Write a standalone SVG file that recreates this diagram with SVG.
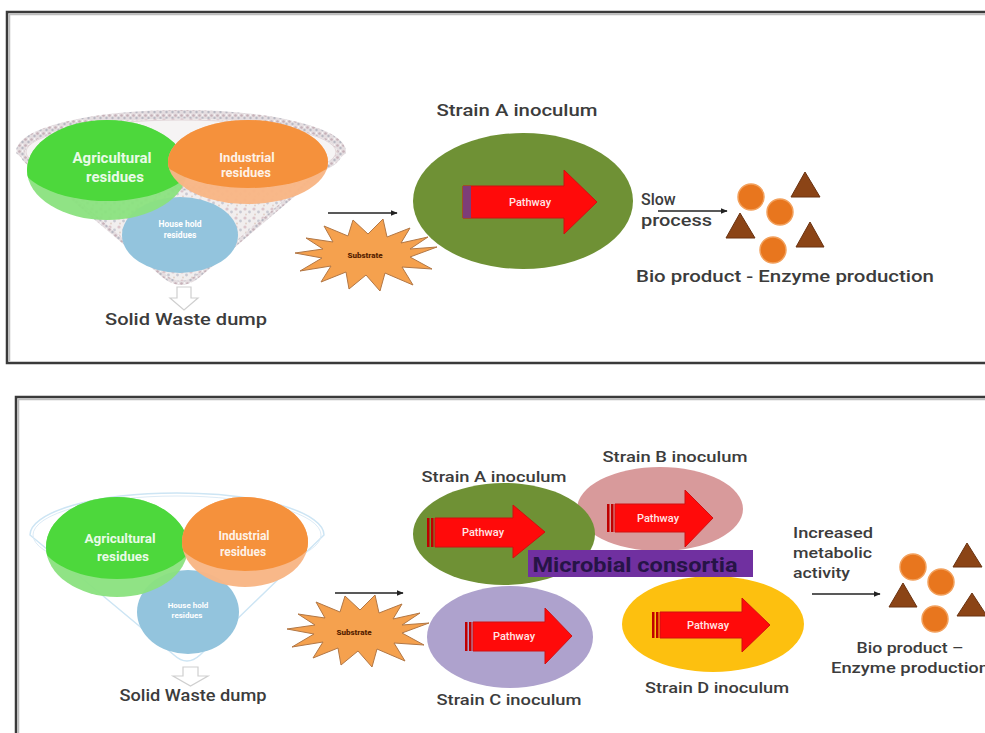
<svg xmlns="http://www.w3.org/2000/svg" width="985" height="733" viewBox="0 0 985 733">
<defs>
<style>
.lbl{font-family:Roboto,"DejaVu Sans",sans-serif;font-weight:500;fill:#3c3c3c}
.wt{font-family:Roboto,"DejaVu Sans",sans-serif;font-weight:700;fill:#ffffff}
.pw{font-family:Roboto,"DejaVu Sans",sans-serif;font-weight:500;fill:#ffe6e6;font-size:11px}
.sub{font-family:Roboto,"DejaVu Sans",sans-serif;font-weight:900;fill:#5a2400;font-size:8px}
.panel{fill:none;stroke:#3a3a3a;stroke-width:2.5}
.panel2{fill:none;stroke:#bdbdbd;stroke-width:1.5}
.conn{stroke:#222;stroke-width:1.3;fill:none;marker-end:url(#ah)}
.arrow{fill:#ff0a0a;stroke:#d01010;stroke-width:1}
.stripe{fill:#c00000}
.star{fill:#f5a14e;stroke:#b27745;stroke-width:1}
.circ{fill:#e8761e;stroke:#f2a05c;stroke-width:1.5}
.tri{fill:#8b4416;stroke:#6a3210;stroke-width:1}
.darr{fill:#ffffff;stroke:#cfcfcf;stroke-width:1.2}
</style>
<marker id="ah" viewBox="0 0 10 10" refX="9" refY="5" markerWidth="7" markerHeight="7" orient="auto" markerUnits="userSpaceOnUse">
<path d="M0,1 L10,5 L0,9 Z" fill="#222"/>
</marker>
<pattern id="mottle" width="9" height="9" patternUnits="userSpaceOnUse">
<rect width="9" height="9" fill="#f1eeee"/>
<circle cx="2" cy="2" r="1.6" fill="#dcc5cb"/>
<circle cx="6.5" cy="5" r="1.4" fill="#c9c9d2"/>
<circle cx="3" cy="7.5" r="1" fill="#e2d2c8"/>
</pattern>
<pattern id="rim" width="6" height="6" patternUnits="userSpaceOnUse">
<rect width="6" height="6" fill="#e4dde0"/>
<circle cx="1.5" cy="1.5" r="1.3" fill="#c6b0b8"/>
<circle cx="4.5" cy="4" r="1.2" fill="#b8b8c2"/>
<circle cx="4.5" cy="1" r="0.8" fill="#ffffff"/>
</pattern>
<clipPath id="cg1"><ellipse cx="107" cy="170" rx="80" ry="50"/></clipPath>
<clipPath id="co1"><ellipse cx="248" cy="162" rx="80" ry="42"/></clipPath>
<clipPath id="cg2"><ellipse cx="117" cy="547" rx="71" ry="50"/></clipPath>
<clipPath id="co2"><ellipse cx="245" cy="542" rx="63" ry="45"/></clipPath>
<polygon id="starshape" points="71,-8 44,2 66,14 36,12 47,30 19,18 14,36 0,20 -17,34 -20,17 -45,27 -35,11 -66,16 -44,3 -71,-2 -43,-6 -60,-17 -33,-13 -42,-29 -18,-19 -13,-35 2,-21 17,-36 21,-18 44,-27 35,-12 62,-18 44,-6"/>
</defs>
<rect width="985" height="733" fill="#ffffff"/>

<!-- panel frames -->
<path class="panel2" d="M985,14.5 H9.5 V361"/>
<path class="panel" d="M985,12 H7 V363 H985"/>
<path class="panel2" d="M985,399.5 H18.5 V733"/>
<path class="panel" d="M985,397 H16 V733"/>

<!-- ===== Top panel ===== -->
<g id="funnel-top">
<path d="M18,152 A163,40 0 0,1 344,152 L198,276 Q181,290 164,276 Z" fill="url(#mottle)" stroke="url(#rim)" stroke-width="4"/>
<ellipse cx="181" cy="152" rx="159" ry="36" fill="none" stroke="url(#rim)" stroke-width="5"/>
<ellipse cx="181" cy="152" rx="155" ry="32" fill="#f6f4f4" stroke="#e3d7da" stroke-width="1"/>
</g>
<g id="household-top">
<ellipse cx="180" cy="235" rx="58" ry="38" fill="#93c4dd"/>
<text class="wt" x="180" y="227" font-size="8.5" font-weight="500" text-anchor="middle">House hold</text>
<text class="wt" x="180" y="238" font-size="8.5" font-weight="500" text-anchor="middle">residues</text>
</g>
<g id="agri-top">
<ellipse cx="107" cy="170" rx="80" ry="50" fill="#8ae27e" fill-opacity="0.95"/>
<g clip-path="url(#cg1)"><ellipse cx="107" cy="156" rx="90" ry="45" fill="#4dd83c"/></g>
<text class="wt" x="112" y="163" font-size="15" text-anchor="middle" fill-opacity="0.9">Agricultural</text>
<text class="wt" x="115" y="182" font-size="15" text-anchor="middle" fill-opacity="0.9">residues</text>
</g>
<g id="indus-top">
<ellipse cx="248" cy="162" rx="80" ry="42" fill="#f8b685" fill-opacity="0.97"/>
<g clip-path="url(#co1)"><ellipse cx="248" cy="150" rx="90" ry="38" fill="#f5913c"/></g>
<text class="wt" x="247" y="162" font-size="13" text-anchor="middle" fill-opacity="0.9">Industrial</text>
<text class="wt" x="246" y="177" font-size="13" text-anchor="middle" fill-opacity="0.9">residues</text>
</g>
<g id="dump-top">
<path class="darr" d="M177,287 H191 V298 H198 L184,310 L170,298 H177 Z"/>
<text class="lbl" x="186" y="325" font-size="17" text-anchor="middle" textLength="162" lengthAdjust="spacingAndGlyphs">Solid Waste dump</text>
</g>
<g id="substrate-top">
<use href="#starshape" class="star" transform="translate(366,255)"/>
<text class="sub" x="365" y="258" text-anchor="middle">Substrate</text>
</g>
<g id="strainA-top">
<text class="lbl" x="517" y="116" font-size="17" text-anchor="middle" textLength="161" lengthAdjust="spacingAndGlyphs">Strain A inoculum</text>
<ellipse cx="523" cy="201" rx="110" ry="68" fill="#6f9135"/>
<polygon class="arrow" points="463,186 564,186 564,170 597,202 564,234 564,218 463,218"/>
<rect x="463" y="186" width="8" height="32" fill="#7d3d78"/>
<text class="pw" x="530" y="206" text-anchor="middle">Pathway</text>
</g>
<g id="products-top">
<polygon class="tri" points="805,172 820,197 791,197"/>
<polygon class="tri" points="740,213 755,238 726,238"/>
<polygon class="tri" points="810,222 824,247 796,247"/>
<circle class="circ" cx="751" cy="197" r="13"/>
<circle class="circ" cx="780" cy="212" r="13"/>
<circle class="circ" cx="773" cy="250" r="13"/>
<text class="lbl" x="636" y="282" font-size="16.5" textLength="298" lengthAdjust="spacingAndGlyphs">Bio product - Enzyme production</text>
</g>
<g id="slow-label">
<text class="lbl" x="641" y="205" font-size="16">Slow</text>
<text class="lbl" x="641" y="226" font-size="16" textLength="71" lengthAdjust="spacingAndGlyphs">process</text>
</g>

<!-- ===== Bottom panel ===== -->
<g id="funnel-bottom">
<path d="M30,535 A147,42 0 0,1 324,535 L200,655 Q187,667 174,655 Z" fill="#ffffff" stroke="#cde5f4" stroke-width="1.5"/>
<ellipse cx="177" cy="535" rx="144" ry="39" fill="none" stroke="#dcebf6" stroke-width="1"/>
</g>
<g id="household-bottom">
<ellipse cx="188" cy="612" rx="51" ry="42" fill="#93c4dd"/>
<text class="wt" x="188" y="608" font-size="8" font-weight="500" text-anchor="middle">House hold</text>
<text class="wt" x="187" y="618" font-size="8" font-weight="500" text-anchor="middle">residues</text>
</g>
<g id="agri-bottom">
<ellipse cx="117" cy="547" rx="71" ry="50" fill="#8ae27e" fill-opacity="0.95"/>
<g clip-path="url(#cg2)"><ellipse cx="117" cy="533" rx="80" ry="46" fill="#4dd83c"/></g>
<text class="wt" x="120" y="543" font-size="13.5" text-anchor="middle" fill-opacity="0.9">Agricultural</text>
<text class="wt" x="123" y="561" font-size="13.5" text-anchor="middle" fill-opacity="0.9">residues</text>
</g>
<g id="indus-bottom">
<ellipse cx="245" cy="542" rx="63" ry="45" fill="#f8b685" fill-opacity="0.97"/>
<g clip-path="url(#co2)"><ellipse cx="245" cy="530" rx="72" ry="41" fill="#f5913c"/></g>
<text class="wt" x="244" y="540" font-size="12" text-anchor="middle" fill-opacity="0.9">Industrial</text>
<text class="wt" x="243" y="556" font-size="12" text-anchor="middle" fill-opacity="0.9">residues</text>
</g>
<g id="dump-bottom">
<path class="darr" d="M183,667 H198 V676 H208 L190.5,686 L173,676 H183 Z"/>
<text class="lbl" x="193" y="701" font-size="16" text-anchor="middle" textLength="147" lengthAdjust="spacingAndGlyphs">Solid Waste dump</text>
</g>
<g id="substrate-bottom">
<use href="#starshape" class="star" transform="translate(358,631)"/>
<text class="sub" x="354" y="635" text-anchor="middle">Substrate</text>
</g>
<g id="strainB">
<ellipse cx="660" cy="509" rx="83" ry="42" fill="#d89a9b"/>
<polygon class="arrow" points="615,504 685,504 685,490 713,518 685,547 685,532 615,532"/>
<rect class="stripe" x="607" y="504" width="2.5" height="28"/>
<rect class="stripe" x="611" y="504" width="2.5" height="28"/>
<text class="pw" x="658" y="522" text-anchor="middle">Pathway</text>
<text class="lbl" x="675" y="462" font-size="15" text-anchor="middle" textLength="145" lengthAdjust="spacingAndGlyphs">Strain B inoculum</text>
</g>
<g id="strainA-bottom">
<ellipse cx="504" cy="534" rx="91" ry="51" fill="#6f9135"/>
<polygon class="arrow" points="435,518 513,518 513,505 545,532 513,558 513,547 435,547"/>
<rect class="stripe" x="427" y="518" width="2.5" height="29"/>
<rect class="stripe" x="431" y="518" width="2.5" height="29"/>
<text class="pw" x="483" y="536" text-anchor="middle">Pathway</text>
<text class="lbl" x="494" y="482" font-size="15" text-anchor="middle" textLength="145" lengthAdjust="spacingAndGlyphs">Strain A inoculum</text>
</g>
<g id="strainC">
<ellipse cx="510" cy="637" rx="83" ry="51" fill="#aea2cd"/>
<polygon class="arrow" points="473,622 545,622 545,608 572,636 545,664 545,651 473,651"/>
<rect class="stripe" x="465" y="622" width="2.5" height="29"/>
<rect class="stripe" x="469" y="622" width="2.5" height="29"/>
<text class="pw" x="514" y="640" text-anchor="middle">Pathway</text>
<text class="lbl" x="509" y="705" font-size="15" text-anchor="middle" textLength="145" lengthAdjust="spacingAndGlyphs">Strain C inoculum</text>
</g>
<g id="strainD">
<ellipse cx="713" cy="624" rx="91" ry="48" fill="#fdc00f"/>
<polygon class="arrow" points="660,612 742,612 742,598 770,625 742,652 742,638 660,638"/>
<rect class="stripe" x="652" y="612" width="2.5" height="26"/>
<rect class="stripe" x="656" y="612" width="2.5" height="26"/>
<text class="pw" x="708" y="629" text-anchor="middle">Pathway</text>
<text class="lbl" x="717" y="693" font-size="15" text-anchor="middle" textLength="144" lengthAdjust="spacingAndGlyphs">Strain D inoculum</text>
</g>
<g id="consortia">
<rect x="528" y="550" width="225" height="27" fill="#7030a0"/>
<text x="635" y="572" font-family="Roboto,'DejaVu Sans',sans-serif" font-weight="700" font-size="20" fill="#261446" text-anchor="middle" textLength="205" lengthAdjust="spacingAndGlyphs">Microbial consortia</text>
</g>
<g id="increased-label">
<text class="lbl" x="793" y="538" font-size="15" textLength="80" lengthAdjust="spacingAndGlyphs">Increased</text>
<text class="lbl" x="793" y="558" font-size="15" textLength="79" lengthAdjust="spacingAndGlyphs">metabolic</text>
<text class="lbl" x="793" y="578" font-size="15" textLength="57" lengthAdjust="spacingAndGlyphs">activity</text>
</g>
<g id="products-bottom">
<polygon class="tri" points="967,543 982,567 953,567"/>
<polygon class="tri" points="903,583 917,607 889,607"/>
<polygon class="tri" points="972,593 987,616 957,616"/>
<circle class="circ" cx="913" cy="567" r="13"/>
<circle class="circ" cx="941" cy="582" r="13"/>
<circle class="circ" cx="935" cy="619" r="13"/>
<text class="lbl" x="910" y="653" font-size="15" text-anchor="middle" textLength="107" lengthAdjust="spacingAndGlyphs">Bio product –</text>
<text class="lbl" x="910" y="673" font-size="15" text-anchor="middle" textLength="158" lengthAdjust="spacingAndGlyphs">Enzyme production</text>
</g>

<!-- connectors -->
<g id="connectors">
<line class="conn" x1="328" y1="213" x2="397" y2="213"/>
<line class="conn" x1="658" y1="211" x2="727" y2="211"/>
<line class="conn" x1="335" y1="593" x2="403" y2="593"/>
<line class="conn" x1="812" y1="594" x2="880" y2="594"/>
</g>
</svg>
